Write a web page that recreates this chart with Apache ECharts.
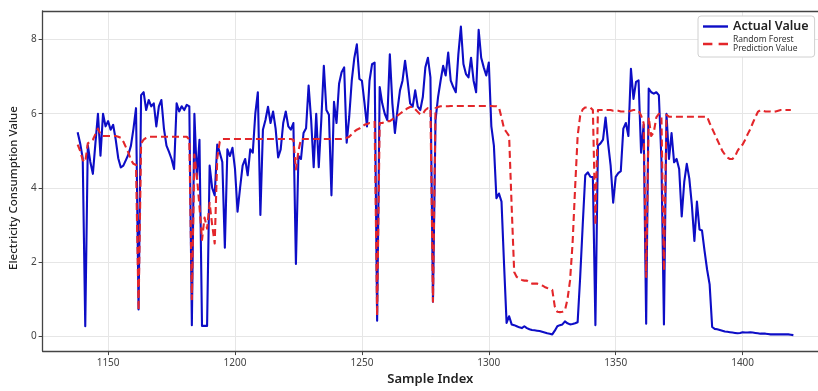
<!DOCTYPE html>
<html>
<head>
<meta charset="utf-8">
<script src="https://cdn.jsdelivr.net/npm/echarts@6/dist/echarts.min.js"></script>
<style>
html,body{margin:0;padding:0;background:#fff;}
#chart{width:818px;height:391px;}
</style>
</head>
<body>
<div id="chart"></div>
<script>
// Sample index of the first point
const startIndex = 1138;

const actualValues = [
  5.5, 5.2, 4.8, 0.27, 5.15, 4.7, 4.38, 5.2, 6.0, 4.87,
  6.0, 5.66, 5.8, 5.57, 5.7, 5.3, 4.8, 4.55, 4.6, 4.75,
  4.9, 5.14, 5.6, 6.15, 0.72, 6.5, 6.58, 6.1, 6.37, 6.2,
  6.28, 5.66, 6.2, 6.37, 5.6, 5.14, 4.97, 4.78, 4.51, 6.28,
  6.06, 6.2, 6.1, 6.24, 6.2, 0.3, 6.0, 4.25, 5.3, 0.28,
  0.28, 0.28, 4.6, 4.0, 3.8, 5.17, 4.95, 4.7, 2.39, 5.04,
  4.86, 5.08, 4.51, 3.36, 4.0, 4.6, 4.78, 4.34, 5.04, 4.95,
  6.0, 6.58, 3.27, 5.57, 5.83, 6.19, 5.75, 6.06, 5.6, 4.82,
  5.04, 5.75, 6.06, 5.66, 5.57, 5.75, 1.95, 4.86, 4.78, 5.48,
  5.61, 6.76, 5.83, 4.56, 6.0, 4.56, 5.83, 7.29, 6.1, 5.97,
  3.8, 6.32, 5.75, 6.81, 7.12, 7.25, 5.22, 5.92, 6.89, 7.5,
  7.87, 6.94, 6.89, 6.3, 5.66, 6.89, 7.34, 7.38, 0.42, 6.72,
  6.28, 6.0, 5.83, 7.6, 6.28, 5.48, 6.1, 6.63, 6.89, 7.43,
  6.89, 6.28, 6.19, 6.63, 6.19, 6.1, 6.45, 7.25, 7.51, 6.98,
  0.93, 5.83, 6.45, 6.89, 7.29, 7.03, 7.65, 6.89, 6.72, 6.58,
  7.6, 8.35, 7.34, 7.07, 6.98, 7.51, 6.89, 6.58, 8.26, 7.51,
  7.25, 7.03, 7.38, 5.66, 5.14, 3.72, 3.85, 3.63, 1.95, 0.36,
  0.54, 0.32, 0.3, 0.27, 0.24, 0.22, 0.27, 0.22, 0.19, 0.17,
  0.16, 0.15, 0.14, 0.12, 0.1, 0.08, 0.07, 0.05, 0.15, 0.27,
  0.3, 0.32, 0.4, 0.35, 0.32, 0.33, 0.35, 0.38, 1.6, 3.0,
  4.34, 4.42, 4.3, 4.29, 0.3, 5.14, 5.2, 5.3, 5.9, 5.2,
  4.6, 3.6, 4.3, 4.4, 4.45, 5.6, 5.75, 5.4, 7.21, 6.4,
  6.86, 6.9, 4.95, 5.7, 0.34, 6.68, 6.58, 6.54, 6.58, 6.5,
  4.78, 0.32, 6.0, 4.78, 5.48, 4.69, 4.78, 4.51, 3.23, 4.16,
  4.65, 4.25, 3.54, 2.57, 3.63, 2.88, 2.85, 2.3, 1.8, 1.4,
  0.25, 0.2, 0.19, 0.17, 0.15, 0.13, 0.12, 0.11, 0.1, 0.09,
  0.08, 0.09, 0.11, 0.1, 0.1, 0.11, 0.1, 0.09, 0.08, 0.07,
  0.07, 0.07, 0.06, 0.05, 0.05, 0.05, 0.05, 0.05, 0.05, 0.05,
  0.05, 0.04, 0.03
];

const predictedValues = [
  5.17, 5.0, 4.75, 4.7, 5.2, 5.25, 5.3, 5.45, 5.6, 5.45,
  5.4, 5.4, 5.4, 5.4, 5.4, 5.4, 5.38, 5.35, 5.25, 5.1,
  4.95, 4.75, 4.65, 4.62, 0.7, 5.2, 5.3, 5.35, 5.38, 5.38,
  5.38, 5.38, 5.38, 5.38, 5.38, 5.38, 5.38, 5.38, 5.38, 5.38,
  5.38, 5.38, 5.38, 5.38, 5.3, 1.0, 4.9, 4.3, 3.5, 2.6,
  3.2, 2.9, 3.6, 3.0, 2.5, 4.8, 5.25, 5.32, 5.32, 5.32,
  5.32, 5.32, 5.32, 5.32, 5.32, 5.32, 5.32, 5.32, 5.32, 5.32,
  5.32, 5.32, 5.32, 5.32, 5.32, 5.32, 5.32, 5.32, 5.32, 5.32,
  5.32, 5.32, 5.32, 5.32, 5.32, 5.3, 4.5, 5.0, 5.32, 5.32,
  5.32, 5.32, 5.32, 5.32, 5.32, 5.32, 5.32, 5.32, 5.32, 5.32,
  5.32, 5.32, 5.32, 5.32, 5.32, 5.33, 5.35, 5.38, 5.45, 5.52,
  5.57, 5.6, 5.65, 5.7, 5.72, 5.75, 5.75, 5.78, 0.55, 5.75,
  5.75, 5.78, 5.8, 5.8, 5.85, 5.9, 5.95, 6.0, 6.05, 6.1,
  6.15, 6.18, 6.18, 6.12, 6.05, 5.98, 6.0, 6.1, 6.15, 6.15,
  0.93, 6.15, 6.18, 6.2, 6.2, 6.2, 6.2, 6.21, 6.21, 6.21,
  6.21, 6.21, 6.21, 6.21, 6.21, 6.21, 6.21, 6.21, 6.21, 6.21,
  6.21, 6.21, 6.21, 6.21, 6.2, 6.2, 6.17, 5.9, 5.6, 5.5,
  5.4, 3.5, 1.73, 1.6, 1.55, 1.52, 1.5, 1.5, 1.45, 1.42,
  1.42, 1.42, 1.4, 1.37, 1.33, 1.3, 1.28, 1.25, 0.8, 0.66,
  0.65, 0.66, 0.7, 1.0, 1.5, 2.5, 4.0, 5.4, 5.95, 6.12,
  6.17, 6.17, 6.17, 6.1, 3.0, 6.1, 6.1, 6.1, 6.1, 6.1,
  6.1, 6.08, 6.08, 6.08, 6.06, 6.06, 6.06, 6.06, 6.08, 6.1,
  6.1, 6.08, 5.95, 5.75, 1.6, 5.9, 5.4, 5.5, 5.9, 6.0,
  5.95, 1.77, 5.97, 5.92, 5.92, 5.92, 5.92, 5.92, 5.92, 5.92,
  5.92, 5.92, 5.92, 5.92, 5.92, 5.92, 5.92, 5.92, 5.92, 5.75,
  5.6, 5.45, 5.3, 5.15, 5.0, 4.9, 4.82, 4.78, 4.78, 4.85,
  5.0, 5.1, 5.17, 5.3, 5.45, 5.58, 5.75, 5.9, 6.05, 6.1,
  6.08, 6.06, 6.06, 6.06, 6.05, 6.06, 6.08, 6.1, 6.1, 6.1,
  6.1, 6.1
];

const xTickValues = [1150, 1200, 1250, 1300, 1350, 1400];
const yTickValues = [0, 2, 4, 6, 8];

const actualName = 'Actual Value';
const predictedName = 'Random Forest Prediction Value';

const toPairs = arr => arr.map((v, i) => [startIndex + i, v]);

const chart = echarts.init(document.getElementById('chart'), null, {renderer: 'canvas'});
const FONT = '"Noto Sans", "Open Sans", sans-serif';
const X_MIN = 1124.2, X_MAX = 1429.7;
const frameLine = {show: true, onZero: false, lineStyle: {color: '#444', width: 1.3}};

chart.setOption({
  animation: false,
  backgroundColor: '#ffffff',
  textStyle: {fontFamily: FONT},
  grid: {left: 42, top: 11, right: 0, bottom: 34, show: false},
  legend: {
    orient: 'vertical',
    left: 698, top: 16,
    padding: [4, 6, 4, 5],
    itemWidth: 25, itemHeight: 14, itemGap: 2,
    backgroundColor: '#fff',
    borderColor: '#d0d0d0', borderWidth: 1, borderRadius: 3,
    data: [
      {name: actualName, icon: 'path://M0,0H25V2.4H0Z',
       textStyle: {fontSize: 12.5, fontWeight: 600, color: '#222'}},
      {name: predictedName, icon: 'path://M0,0H9V2.4H0Z M15,0H24V2.4H15Z',
       textStyle: {fontSize: 8.5, lineHeight: 9, color: '#333'}}
    ],
    formatter: name => name === predictedName ? 'Random Forest\nPrediction Value' : name,
    textStyle: {fontFamily: FONT}
  },
  xAxis: [
    {
      type: 'value', position: 'bottom',
      min: X_MIN, max: X_MAX,
      name: 'Sample Index',
      nameLocation: 'middle', nameGap: 16,
      nameTextStyle: {fontSize: 13, fontWeight: 600, color: '#222', fontFamily: FONT},
      axisLine: frameLine,
      axisTick: {show: true, length: 4, customValues: xTickValues, lineStyle: {color: '#444'}},
      axisLabel: {customValues: xTickValues, fontSize: 10, color: '#444', margin: 7, fontFamily: FONT,
                  formatter: v => String(v)},
      splitLine: {show: true, lineStyle: {color: '#e6e6e6', width: 1}}
    },
    {
      type: 'value', position: 'top',
      min: X_MIN, max: X_MAX,
      axisLine: frameLine,
      axisTick: {show: false},
      axisLabel: {show: false},
      splitLine: {show: false}
    }
  ],
  yAxis: {
    type: 'value',
    min: -0.4, max: 8.77,
    name: 'Electricity Consumption Value',
    nameLocation: 'middle', nameGap: 18,
    nameTextStyle: {fontSize: 11.5, fontWeight: 500, color: '#222', fontFamily: FONT,
                    padding: [0, 14, 0, 0]},
    axisLine: frameLine,
    axisTick: {show: true, length: 4, customValues: yTickValues, lineStyle: {color: '#444'}},
    axisLabel: {customValues: yTickValues, fontSize: 10, color: '#444', margin: 6, fontFamily: FONT,
                formatter: v => String(v)},
    splitLine: {show: true, lineStyle: {color: '#e6e6e6', width: 1}}
  },
  series: [
    {
      name: actualName,
      type: 'line',
      xAxisIndex: 0,
      data: toPairs(actualValues),
      showSymbol: false, symbol: 'none',
      itemStyle: {color: '#0d0dc6'},
      lineStyle: {color: '#0d0dc6', width: 2.1, join: 'round'},
      z: 3
    },
    {
      name: predictedName,
      type: 'line',
      xAxisIndex: 0,
      data: toPairs(predictedValues),
      showSymbol: false, symbol: 'none',
      itemStyle: {color: '#e3262a'},
      lineStyle: {color: '#e3262a', width: 2.1, type: [7, 4], join: 'round'},
      z: 4
    }
  ]
});
</script>
</body>
</html>
